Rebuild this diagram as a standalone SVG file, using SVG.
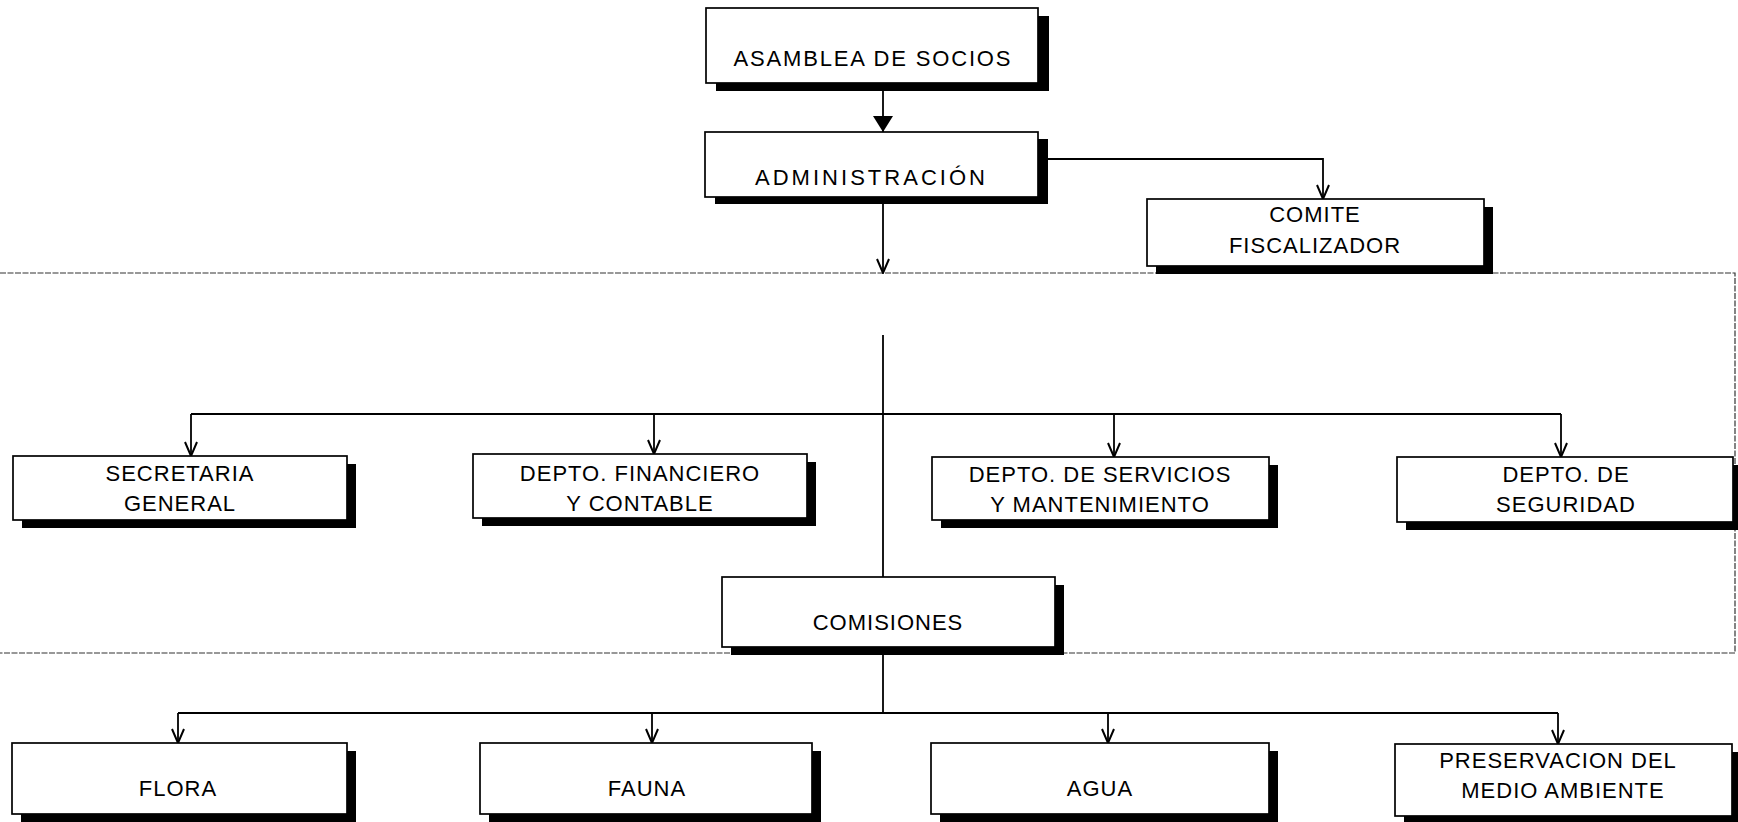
<svg xmlns="http://www.w3.org/2000/svg" width="1738" height="822" viewBox="0 0 1738 822">
<style>
.box{fill:#fff;stroke:#000;stroke-width:1.7}
.sh{fill:#000}
.t{font-family:"Liberation Sans",Arial,sans-serif;font-size:22px;letter-spacing:1px;text-anchor:middle;fill:#000}
.c{font-family:"Liberation Sans",Arial,sans-serif;font-size:22px;text-anchor:middle;fill:#000}
.ln{stroke:#000;stroke-width:1.8;fill:none}
.dash{stroke:#333;stroke-width:1.2;stroke-dasharray:6 1.5;fill:none}
</style>
<defs>
<marker id="open" viewBox="0 0 16 14" refX="15" refY="7" markerWidth="16" markerHeight="14" markerUnits="userSpaceOnUse" orient="auto"><path d="M1,1 L15,7 L1,13" fill="none" stroke="#000" stroke-width="2"/></marker>
<marker id="filled" viewBox="0 0 16 20" refX="16" refY="10" markerWidth="16" markerHeight="20" markerUnits="userSpaceOnUse" orient="auto"><path d="M0,0 L16,10 L0,20 Z" fill="#000"/></marker>
</defs>
<rect width="1738" height="822" fill="#fff"/>
<g id="frame"><path class="dash" d="M0,273 H1735 V653 H0"/></g>
<g id="connectors">
<path class="ln" d="M883,91 V132" marker-end="url(#filled)"/>
<path class="ln" d="M1048,159 H1323 V199" marker-end="url(#open)"/>
<path class="ln" d="M883,204 V273" marker-end="url(#open)"/>
<path class="ln" d="M883,335 V577"/>
<path class="ln" d="M191,414 H1561"/>
<path class="ln" d="M191,414 V456" marker-end="url(#open)"/>
<path class="ln" d="M654,414 V454" marker-end="url(#open)"/>
<path class="ln" d="M1114,414 V457" marker-end="url(#open)"/>
<path class="ln" d="M1561,414 V457" marker-end="url(#open)"/>
<path class="ln" d="M883,655 V713"/>
<path class="ln" d="M178,713 H1558"/>
<path class="ln" d="M178,713 V743" marker-end="url(#open)"/>
<path class="ln" d="M652,713 V743" marker-end="url(#open)"/>
<path class="ln" d="M1108,713 V743" marker-end="url(#open)"/>
<path class="ln" d="M1558,713 V744" marker-end="url(#open)"/>
</g>
<g id="asamblea"><rect class="sh" x="716" y="16" width="333" height="75"/><rect class="box" x="706" y="8" width="332" height="75"/><text class="c" x="872" y="66" textLength="277">ASAMBLEA DE SOCIOS</text></g>
<g id="administracion"><rect class="sh" x="715" y="139" width="333" height="65"/><rect class="box" x="705" y="132" width="333" height="65"/><text class="c" x="870" y="185" textLength="230">ADMINISTRACIÓN</text></g>
<g id="comite"><rect class="sh" x="1156" y="207" width="337" height="67"/><rect class="box" x="1147" y="199" width="337" height="67"/><text class="t" x="1315" y="222">COMITE</text><text class="t" x="1315" y="253">FISCALIZADOR</text></g>
<g id="secretaria"><rect class="sh" x="22" y="464" width="334" height="64"/><rect class="box" x="13" y="456" width="334" height="64"/><text class="t" x="180" y="481">SECRETARIA</text><text class="t" x="180" y="511">GENERAL</text></g>
<g id="financiero"><rect class="sh" x="482" y="462" width="334" height="64"/><rect class="box" x="473" y="454" width="334" height="64"/><text class="t" x="640" y="481">DEPTO. FINANCIERO</text><text class="t" x="640" y="511">Y CONTABLE</text></g>
<g id="servicios"><rect class="sh" x="941" y="465" width="337" height="63"/><rect class="box" x="932" y="457" width="337" height="63"/><text class="t" x="1100" y="482">DEPTO. DE SERVICIOS</text><text class="t" x="1100" y="512">Y MANTENIMIENTO</text></g>
<g id="seguridad"><rect class="sh" x="1406" y="465" width="336" height="65"/><rect class="box" x="1397" y="457" width="336" height="65"/><text class="t" x="1566" y="482">DEPTO. DE</text><text class="t" x="1566" y="512">SEGURIDAD</text></g>
<g id="comisiones"><rect class="sh" x="731" y="585" width="333" height="70"/><rect class="box" x="722" y="577" width="333" height="70"/><text class="t" x="888" y="630">COMISIONES</text></g>
<g id="flora"><rect class="sh" x="21" y="751" width="335" height="71"/><rect class="box" x="12" y="743" width="335" height="71"/><text class="t" x="178" y="796">FLORA</text></g>
<g id="fauna"><rect class="sh" x="489" y="751" width="332" height="71"/><rect class="box" x="480" y="743" width="332" height="71"/><text class="t" x="647" y="796">FAUNA</text></g>
<g id="agua"><rect class="sh" x="940" y="751" width="338" height="71"/><rect class="box" x="931" y="743" width="338" height="71"/><text class="t" x="1100" y="796">AGUA</text></g>
<g id="preservacion"><rect class="sh" x="1404" y="752" width="337" height="72"/><rect class="box" x="1395" y="744" width="337" height="72"/><text class="t" x="1558" y="768">PRESERVACION DEL</text><text class="t" x="1563" y="798">MEDIO AMBIENTE</text></g>
</svg>
